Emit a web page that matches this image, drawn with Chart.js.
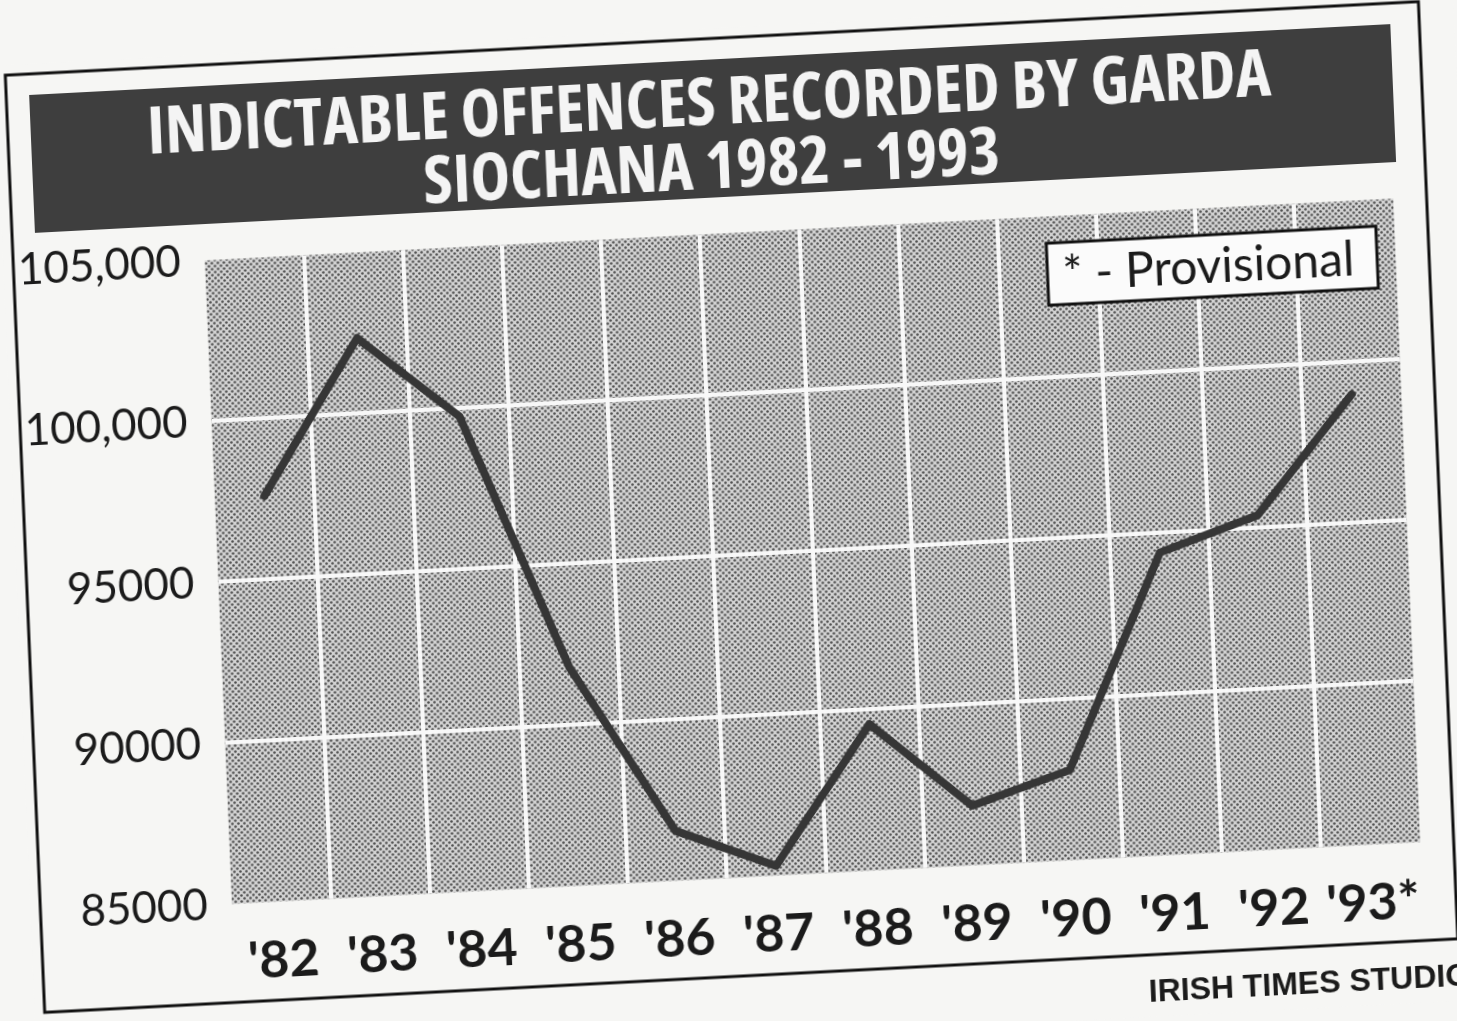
<!DOCTYPE html>
<html>
<head>
<meta charset="utf-8">
<script src="https://cdn.jsdelivr.net/npm/chart.js@4.4.1/dist/chart.umd.min.js"></script>
<style>
html,body{margin:0;padding:0;background:#f6f6f4;overflow:hidden;width:1457px;height:1021px;}
#wrap{position:absolute;left:13.5px;top:28px;width:1460px;height:1010px;transform-origin:717.5px 479px;transform:matrix(0.9986,-0.052,0.042,0.9991,0,0);}
canvas{display:block;}
</style>
</head>
<body>
<div id="wrap"><canvas id="c" width="1460" height="1010"></canvas></div>
<script>
// ---- data ----
const years = ["'82","'83","'84","'85","'86","'87","'88","'89","'90","'91","'92","'93*"];
const offences = [97600, 102350, 99750, 91800, 86550, 85300, 89550, 86850, 87800, 94400, 95400, 99000];
const yTickValues = [85000, 90000, 95000, 100000, 105000];
const yTickLabels = ['85000', '90000', '95000', '100,000', '105,000'];
const titleLines = ['INDICTABLE OFFENCES RECORDED BY GARDA', 'SIOCHANA 1982 - 1993'];
const legendText = '* - Provisional';
const sourceText = 'IRISH TIMES STUDIO';

// ---- layout / style ----
const FRAME = {x: 10, y: 10, w: 1415, h: 938};
const BAND = {x: 33, y: 31, w: 1363, h: 138};
const INK = '#1b1b1b';

// pick the narrowest available bold face for the condensed headline
const probe = document.createElement('canvas').getContext('2d');
const titleCandidates = [
  {weight: 'bold condensed', family: "'Noto Sans'"},
  {weight: 'bold condensed', family: "'Open Sans'"},
  {weight: 'bold', family: "'DejaVu Sans Condensed'"},
  {weight: 'bold', family: "'Liberation Sans Narrow'"}
];
let titleFont = null;
titleCandidates.forEach(c => {
  probe.font = `${c.weight} 100px ${c.family}`;
  const size = 100 * 1125 / probe.measureText(titleLines[0]).width;
  const score = Math.abs(size - 70);
  if (!titleFont || score < titleFont.score) titleFont = {weight: c.weight, family: c.family, size, score};
});
titleFont.size = Math.min(titleFont.size, 74);

const canvas = document.getElementById('c');
const tile = document.createElement('canvas');
tile.width = 6; tile.height = 6;
const t = tile.getContext('2d');
t.fillStyle = '#d2d2d2'; t.fillRect(0, 0, 6, 6);
t.fillStyle = '#505050';
t.beginPath(); t.arc(1.5, 1.5, 1.3, 0, Math.PI * 2); t.fill();
t.beginPath(); t.arc(4.5, 4.5, 1.3, 0, Math.PI * 2); t.fill();
const halftone = canvas.getContext('2d').createPattern(tile, 'repeat');

const paperPlugin = {
  id: 'paper',
  beforeDraw(chart) {
    const {ctx, chartArea: a} = chart;
    ctx.save();
    ctx.fillStyle = '#f6f6f4';
    ctx.fillRect(0, 0, chart.width, chart.height);
    ctx.fillStyle = '#3e3e3e';
    ctx.fillRect(BAND.x, BAND.y, BAND.w, BAND.h);
    ctx.fillStyle = halftone;
    ctx.fillRect(a.left, a.top, a.right - a.left, a.bottom - a.top);
    ctx.restore();
  },
  afterDraw(chart) {
    const {ctx, chartArea: a} = chart;
    ctx.save();
    // legend box
    const bw = 330, bh = 62;
    const bx = a.right - 18.5 - bw, by = a.top + 26.5;
    ctx.fillStyle = '#fbfbfb';
    ctx.fillRect(bx, by, bw, bh);
    ctx.lineWidth = 3; ctx.strokeStyle = '#111';
    ctx.strokeRect(bx, by, bw, bh);
    ctx.font = '48px Lato';
    ctx.fillStyle = INK; ctx.textBaseline = 'middle'; ctx.textAlign = 'left';
    ctx.fillText(legendText, bx + 15, by + bh / 2 + 2);
    // frame
    ctx.lineWidth = 3; ctx.strokeStyle = '#111';
    ctx.strokeRect(FRAME.x, FRAME.y, FRAME.w, FRAME.h);
    // source
    ctx.font = 'bold 32px "Liberation Sans", Arial, sans-serif';
    ctx.fillStyle = INK;
    ctx.fillText(sourceText, 1114, 986);
    ctx.restore();
  }
};

const clear = 'rgba(0,0,0,0)';
new Chart(canvas, {
  type: 'line',
  data: {
    labels: years,
    datasets: [{
      data: offences,
      borderColor: '#363636',
      borderWidth: 8,
      pointRadius: 0,
      tension: 0,
      borderJoinStyle: 'round',
      borderCapStyle: 'round',
      fill: false
    }]
  },
  options: {
    responsive: false,
    animation: false,
    devicePixelRatio: 1,
    layout: {padding: {top: 10, left: 0, right: 36, bottom: 60.6}},
    plugins: {
      legend: {display: false},
      tooltip: {enabled: false},
      title: {
        display: true,
        text: titleLines,
        color: '#f4f4f4',
        font: {family: titleFont.family, size: titleFont.size, weight: titleFont.weight, lineHeight: 64 / titleFont.size},
        padding: {top: 35, bottom: 32.5}
      }
    },
    scales: {
      x: {
        offset: true,
        grid: {
          offset: true,
          color: c => (c.type !== 'tick' || c.index === 0) ? clear : '#f8f8f8',
          lineWidth: 4,
          drawTicks: false
        },
        border: {display: false},
        ticks: {color: INK, font: {family: 'Lato', size: 52, weight: 'bold'}, padding: 28, maxRotation: 0, autoSkip: false},
        afterFit(s) { s.height = 100; }
      },
      y: {
        min: 85000,
        max: 105000,
        afterBuildTicks(s) { s.ticks = yTickValues.map(v => ({value: v})); },
        grid: {
          color: c => (c.tick && (c.tick.value === 85000 || c.tick.value === 105000)) ? clear : '#f8f8f8',
          lineWidth: 4,
          drawTicks: false
        },
        border: {display: false},
        ticks: {
          callback: v => yTickLabels[yTickValues.indexOf(v)],
          color: INK,
          font: {family: 'Lato', size: 44},
          padding: 24
        },
        afterFit(s) { s.width = 201.6; }
      },
      yRightMargin: {
        position: 'right',
        display: true,
        grid: {display: false, drawTicks: false},
        border: {display: false},
        ticks: {display: false},
        afterFit(s) { s.width = 32.5; }
      }
    }
  },
  plugins: [paperPlugin]
});
</script>
</body>
</html>
